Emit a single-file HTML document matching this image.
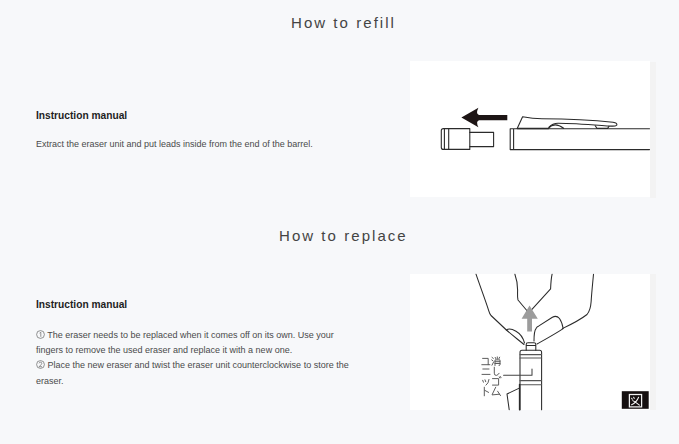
<!DOCTYPE html>
<html><head><meta charset="utf-8">
<style>
html,body{margin:0;padding:0;}
body{width:679px;height:444px;background:#f7f8fa;position:relative;overflow:hidden;font-family:"Liberation Sans",sans-serif;color:#333;}
.t{position:absolute;font-size:15px;letter-spacing:2.05px;color:#444;white-space:nowrap;line-height:1;}
.h{position:absolute;font-size:10.2px;font-weight:bold;color:#1e1e1e;white-space:nowrap;line-height:1;}
.p{position:absolute;font-size:9px;color:#4a4a4a;white-space:nowrap;line-height:15.2px;}
.panel{position:absolute;background:#fff;}
.c{display:inline-block;vertical-align:-1px;}
</style></head><body>
<div class="t" id="t1" style="left:291px;top:15px;">How to refill</div>
<div class="h" id="h1" style="left:36px;top:111px;">Instruction manual</div>
<div class="p" id="p1" style="left:36px;top:137px;">Extract the eraser unit and put leads inside from the end of the barrel.</div>
<div class="panel" style="left:410px;top:61px;width:240px;height:136px;"></div><div style="position:absolute;left:650px;top:62px;width:6px;height:136px;background:#f3f3f3"></div>

<svg width="679" height="444" style="position:absolute;left:0;top:0" viewBox="0 0 679 444">
<g fill="none" stroke="#2b2b2b" stroke-width="1.1" stroke-linejoin="round" stroke-linecap="round">
<!-- panel1 eraser unit -->
<path d="M443.5,128.6 H469.8 V149.4 H443.5 Q441.3,149.4 441.3,147.4 V130.6 Q441.3,128.6 443.5,128.6 Z"/>
<path d="M444.4,128.8 V149.2 M448.7,128.8 V149.2"/>
<path d="M469.8,132.4 H493.6 V146.6 H469.8"/>
<!-- barrel -->
<path d="M649.5,128.8 H510.2 V149.6 H649.5 M513.6,128.9 V149.4"/>
<!-- clip -->
<path d="M517.2,128.4 L522.6,116.8 C528,117.8 533,118.7 542,118.8 C565,118.9 590,119.8 613,122.3 Q618,123 616.6,125.4 Q615,126.4 611,126.1 C590,124.6 575,123.3 558,123.2 C553,123.2 551,125 549,127.2"/><path d="M517.5,128.5 H548.5" stroke-width="1.5"/>
<path d="M548.3,128.3 C552,124.3 557,123.2 563.6,128.3"/>
<path d="M595.2,125.8 L597,128.4 H607.6 L609,126.4"/>
</g>
<!-- black arrow -->
<path fill="#1d1515" d="M461.4,117.6 L478.4,107.8 Q475.5,114 479,114.9 H507.3 V120.3 H479 Q475.5,121.5 478.4,127.2 Z"/>
</svg>
<div class="t" id="t2" style="left:279px;top:228px;">How to replace</div>
<div class="h" id="h2" style="left:36px;top:300px;">Instruction manual</div>
<div class="p" id="p2" style="left:36px;top:328px;">
<svg class="c" width="9" height="9" viewBox="0 0 9 9"><circle cx="4.5" cy="4.5" r="3.9" fill="none" stroke="#666" stroke-width="0.7"/><path d="M3.6,3.1 L4.8,2.3 V6.8" fill="none" stroke="#666" stroke-width="0.7"/></svg> The eraser needs to be replaced when it comes off on its own. Use your<br>
fingers to remove the used eraser and replace it with a new one.<br>
<svg class="c" width="9" height="9" viewBox="0 0 9 9"><circle cx="4.5" cy="4.5" r="3.9" fill="none" stroke="#666" stroke-width="0.7"/><path d="M3.1,3.3 Q3.3,2.2 4.5,2.2 Q5.8,2.3 5.8,3.4 Q5.7,4.4 3.1,6.7 H6" fill="none" stroke="#666" stroke-width="0.7"/></svg> Place the new eraser and twist the eraser unit counterclockwise to store the<br>
eraser.</div>
<div class="panel" style="left:410px;top:274px;width:240px;height:136px;"></div><div style="position:absolute;left:650px;top:274px;width:6px;height:136px;background:#f3f3f3"></div>
<svg width="679" height="444" style="position:absolute;left:0;top:0" viewBox="0 0 679 444">
<g fill="none" stroke="#2b2b2b" stroke-width="1.05" stroke-linejoin="round" stroke-linecap="round">
<!-- left outer hand -->
<path d="M476,274.2 C480,286 485,299 488.7,310.6 Q489.5,313.5 491,315.5 L506.4,330 C512,335 518,339.5 524,344.5"/>
<!-- left thumbnail -->
<path d="M506.4,330 C509,328 513,329.5 516,331.2 C520,333.5 523,337 524.5,343"/>
<!-- inner finger left -->
<path d="M514.9,274.2 C517,280 517.6,286 517.6,290 C517.6,294 517.2,297 518,300 L528.5,312.5"/>
<!-- inner finger right -->
<path d="M552.1,274.2 C551,279 550.8,284 550.6,288.9 L531.5,309.8"/>
<!-- right outer -->
<path d="M593.5,274.2 C592.5,285 591.5,295 591.2,300.6 C590.8,306 590.8,310 587,314.5 C580,320 572,324 562.3,328.6"/>
<!-- right fingertip -->
<path d="M534,341 C534,335 534.8,330 536,328.6 Q537,326.5 538.9,325.9 L552.4,317.2 Q556.5,315 559.5,318.5 Q562,322 563.2,328.6 C555,334 545,339.5 537,344"/>
<!-- pen body -->
<path d="M520,409.8 V352.3 Q520,350.3 522,350.3 H539.6 Q541.6,350.3 541.6,352.3 V409.8"/>
<path d="M520,354.6 H541.6 M520,358 H541.6 M520,380.6 H541.6 M520,384.8 H541.6" stroke="#555"/>
<!-- eraser tip -->
<path d="M526.2,350.3 V344.5 Q526.2,342.8 528,342.8 H534 Q535.8,342.8 535.8,344.5 V350.3 M526.2,345.4 H535.8"/>
<!-- leader -->
<path d="M503.6,375.3 H532 V368.9" stroke="#444"/>
<!-- clip -->
<path d="M509.2,409.8 L507,394 L519.3,388.1"/><path d="M519.6,384.5 V409.8" stroke-width="1.5"/>
</g>
<g fill="none" stroke="#555" stroke-width="0.95" stroke-linecap="round" stroke-linejoin="round">
<path d="M492,357.4 L493.3,358.4 M491.7,359.9 L493,360.9 M492,365.2 L493.6,362"/>
<path d="M497.3,356.9 V359 M495.2,357.4 L495.9,358.7 M499.6,357.2 L498.9,358.7"/>
<path d="M495,365.5 V359.9 H500 V365 Q500,365.6 499,365.4 M495,361.7 H500 M495,363.5 H500"/>
<path d="M494.3,367.2 V373.2 Q494.3,375.6 496.4,375.4 Q498,375.2 499.1,373.3"/>
<path d="M492.5,378.6 H498.6 V385.1 H492.5 M499.3,376.9 L499.8,378 M500.5,376.6 L501,377.7"/>
<path d="M495.7,387.2 L492,394.9 L499.6,394.2 M497.6,391.2 L500.5,395.6"/>
<path d="M482.6,358.4 H488.2 V364.7 M481.8,364.7 H489.9"/>
<path d="M482.8,369 H489 M482,374.4 H490"/>
<path d="M482.7,380.3 L483.4,382.2 M485,379.8 L485.7,381.7 M489,379.5 Q488.6,383.4 486,385.2"/>
<path d="M484.3,387.2 V395.8 M484.7,390.3 L488.6,392.4"/>
</g>
<!-- grey arrow -->
<path fill="#9c9c9c" d="M529.5,305.5 L537.8,318.8 H532 V331.5 H527.2 V318.8 H521.6 Z"/>
<!-- zu box -->
<rect x="621.8" y="391.2" width="26.9" height="17.6" fill="#161010"/>
<g fill="none" stroke="#f2f2f2" stroke-width="1.25" stroke-linecap="round">
<rect x="629.4" y="394.5" width="12.2" height="12.4"/>
<path d="M631.6,398.2 L632.3,399.3 M633.6,397.3 L634.3,398.4 M638.6,397.2 Q636.5,402.5 631.6,404.8 M632.8,400.6 Q636,402.2 639.4,405.2" stroke-width="1.05"/>
</g>
</svg>
</body></html>
